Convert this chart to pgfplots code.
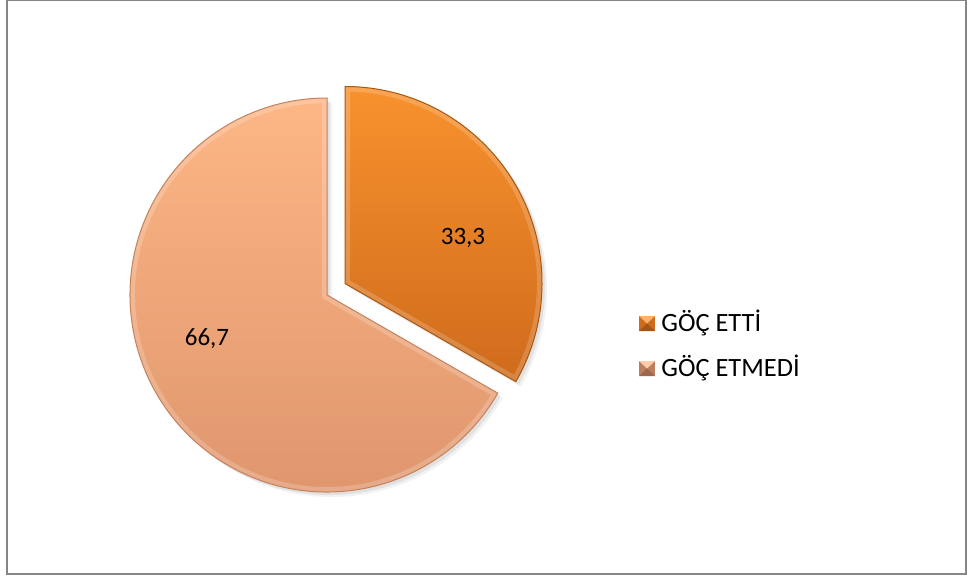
\documentclass[border=0pt]{standalone}
\usepackage{pgfplots}
\pgfplotsset{compat=1.18}
\usepackage{pgfplotstable}
\usepackage{fontspec}
\setmainfont{Carlito}

% values (percent) in chart order: GÖÇ ETTİ, GÖÇ ETMEDİ
\pgfplotstableread{
idx value
0 33.3
1 66.7
}\piedata

\definecolor{orTop}{HTML}{F8922E}
\definecolor{orBot}{HTML}{CF6B1C}
\definecolor{orEdge}{HTML}{A9560F}
\definecolor{peTop}{HTML}{FDB685}
\definecolor{peBot}{HTML}{DD946C}
\definecolor{peEdge}{HTML}{C5815C}
\definecolor{frameGray}{HTML}{868686}

\pgfplotstablegetelem{0}{value}\of\piedata
\pgfmathsetmacro\valA{\pgfplotsretval}
\pgfplotstablegetelem{1}{value}\of\piedata
\pgfmathsetmacro\valB{\pgfplotsretval}
\pgfmathsetmacro\angA{90-3.6*\valA}
\pgfmathsetmacro\angB{\angA-3.6*\valB}
\def\R{98.5pt}
\newcommand\slice[4]{(axis cs:#1,#2) -- ++(#3:\R) arc[start angle=#3, end angle=#4, radius=\R] -- cycle}

\begin{document}
\begin{tikzpicture}
\begin{axis}[
  scale only axis, width=483.5pt, height=289.5pt,
  xmin=0, xmax=967, ymin=0, ymax=579,
  hide axis, axis lines=none, xtick=\empty, ytick=\empty, clip=false,
  anchor=south west, at={(0,0)},
]
% frame
\draw[frameGray, line width=0.8pt] (axis cs:7,5) rectangle (axis cs:966,578.6);
% soft shadows
\fill[black, opacity=0.05, xshift=2.5pt, yshift=-2.5pt] \slice{327}{284}{\angA}{\angB};
\fill[black, opacity=0.05, xshift=2.5pt, yshift=-2.5pt] \slice{345}{295.5}{90}{\angA};
\fill[black, opacity=0.07, xshift=1.5pt, yshift=-1.5pt] \slice{327}{284}{\angA}{\angB};
\fill[black, opacity=0.07, xshift=1.5pt, yshift=-1.5pt] \slice{345}{295.5}{90}{\angA};
% big slice (GÖÇ ETMEDİ)
\shade[top color=peTop, bottom color=peBot] \slice{327}{284}{\angA}{\angB};
\begin{scope}
  \clip \slice{327}{284}{\angA}{\angB};
  \draw[white, opacity=0.2, line width=5pt] \slice{327}{284}{\angA}{\angB};
\end{scope}
\draw[peEdge, line width=0.5pt] \slice{327}{284}{\angA}{\angB};
% small slice (GÖÇ ETTİ), exploded
\shade[top color=orTop, bottom color=orBot] \slice{345}{295.5}{90}{\angA};
\begin{scope}
  \clip \slice{345}{295.5}{90}{\angA};
  \draw[white, opacity=0.18, line width=5pt] \slice{345}{295.5}{90}{\angA};
\end{scope}
\draw[orEdge, line width=0.5pt] \slice{345}{295.5}{90}{\angA};
% data labels
\node[font=\fontsize{12.5}{14}\selectfont] at (axis cs:463,341) {33,3};
\node[font=\fontsize{12.5}{14}\selectfont] at (axis cs:207,240) {66,7};
% legend
\fill[orBot] (axis cs:639,248) rectangle (axis cs:655,263);
\fill[orTop!70!white] (axis cs:639,263) -- (axis cs:655,263) -- (axis cs:647,255.5) -- cycle;
\fill[orBot!80!black] (axis cs:639,248) -- (axis cs:655,248) -- (axis cs:647,255.5) -- cycle;
\fill[peBot!85!black] (axis cs:639,203) rectangle (axis cs:655,218);
\fill[peTop!70!white] (axis cs:639,218) -- (axis cs:655,218) -- (axis cs:647,210.5) -- cycle;
\fill[peBot!70!black] (axis cs:639,203) -- (axis cs:655,203) -- (axis cs:647,210.5) -- cycle;
\node[anchor=west, inner sep=0pt, font=\fontsize{13.2}{15}\selectfont] at (axis cs:661,256) {GÖÇ ETTİ};
\node[anchor=west, inner sep=0pt, font=\fontsize{13.2}{15}\selectfont] at (axis cs:661,211) {GÖÇ ETMEDİ};
\end{axis}
\pgfresetboundingbox
\useasboundingbox (0,0) rectangle (483.5pt,289.5pt);
\end{tikzpicture}
\end{document}
